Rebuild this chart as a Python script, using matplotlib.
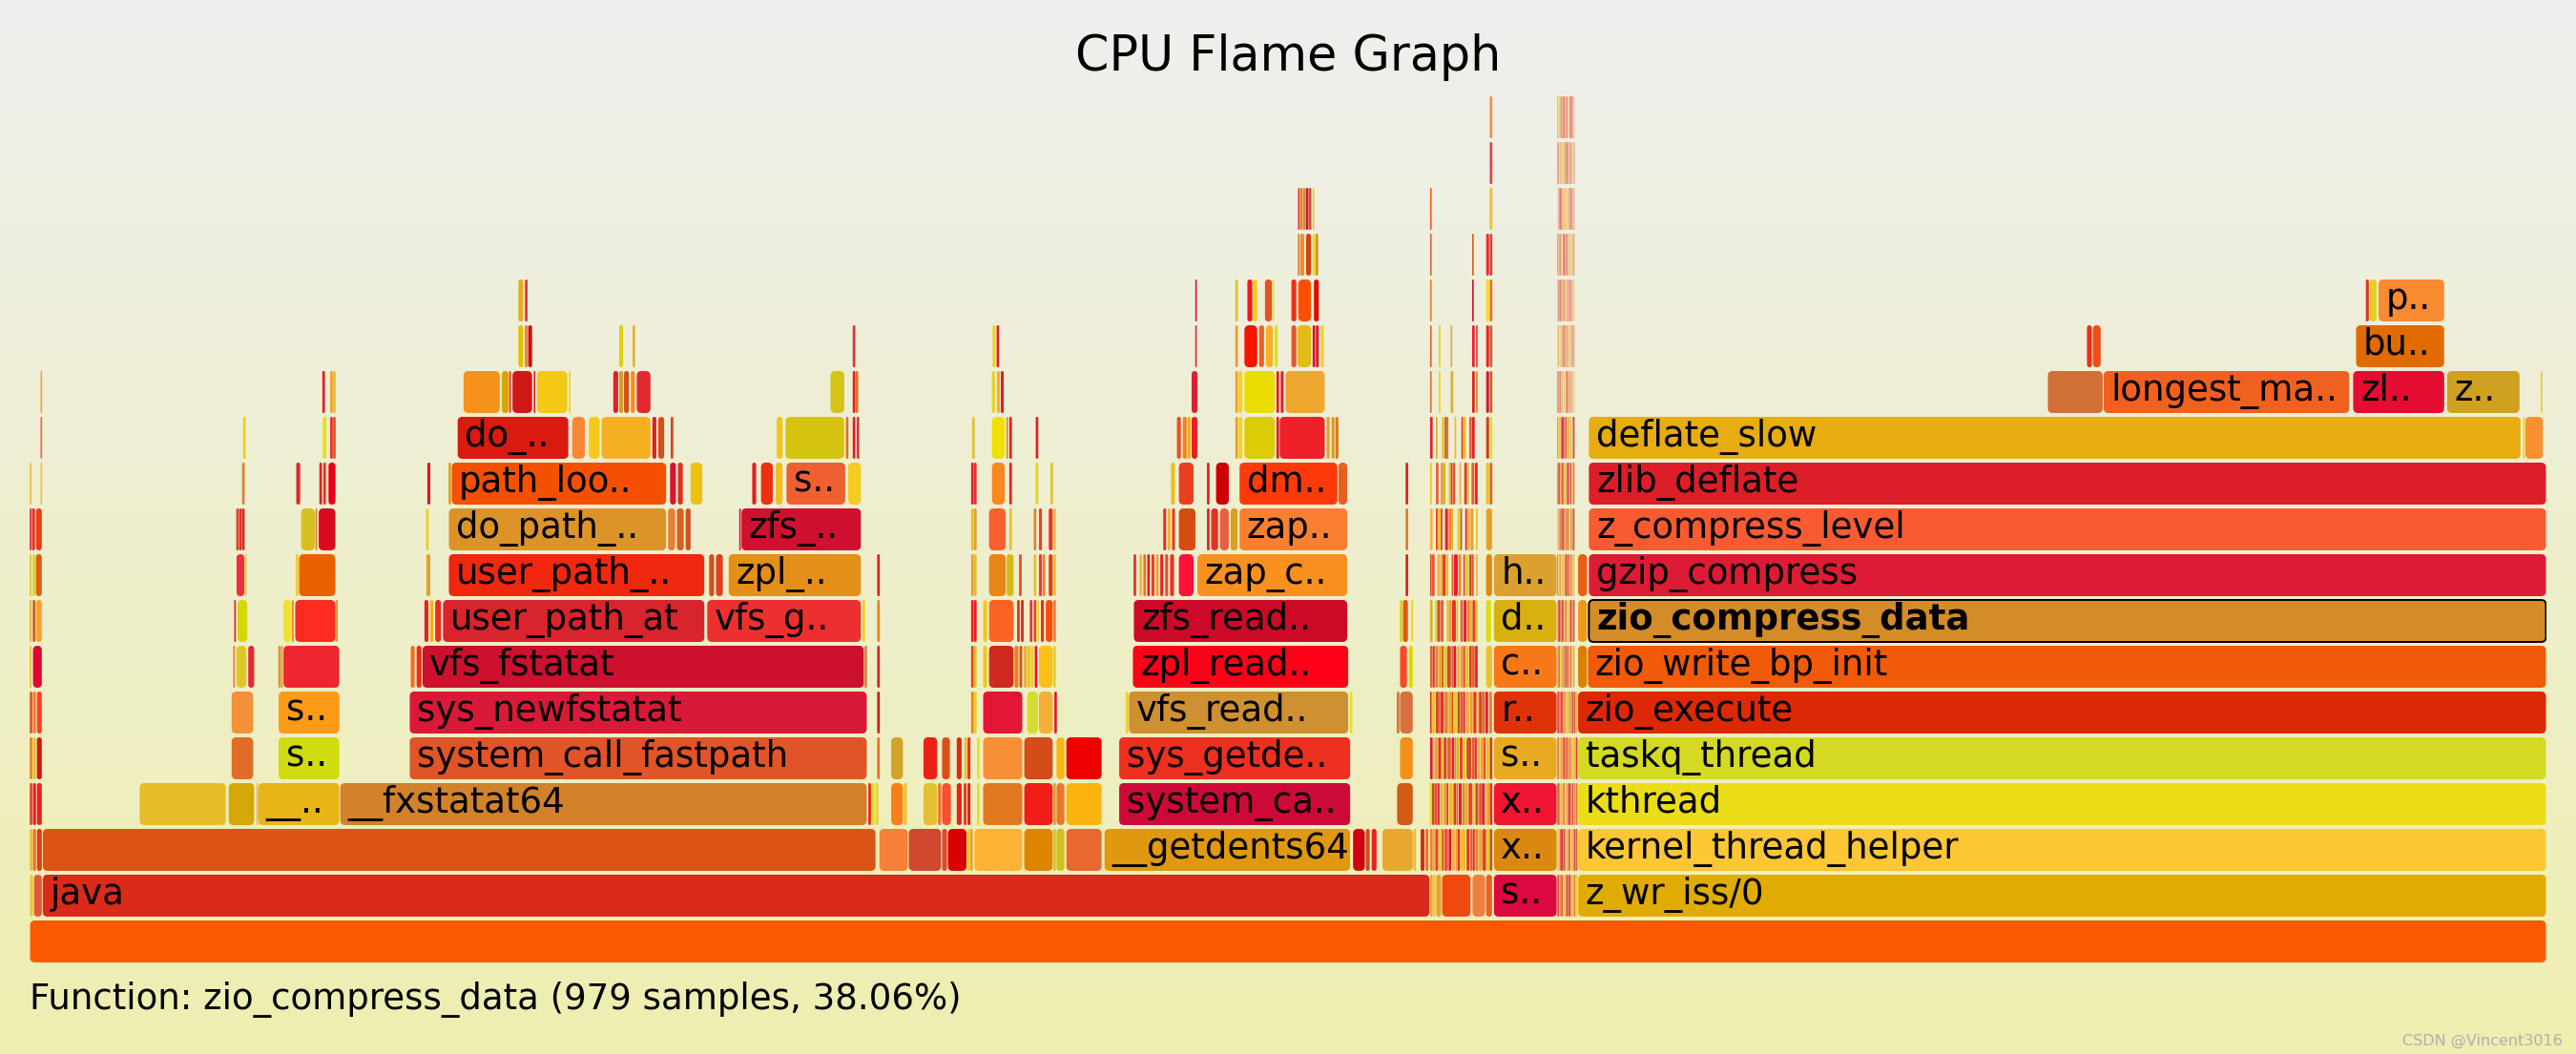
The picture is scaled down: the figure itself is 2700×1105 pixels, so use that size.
import numpy as np
import matplotlib
matplotlib.use("Agg")
import matplotlib.pyplot as plt
from matplotlib.patches import FancyBboxPatch

# ---- data: samples per stack frame, one list per depth: (start, samples, label)
total_samples = 2572
selected = "zio_compress_data"
info_text = "Function: zio_compress_data (979 samples, 38.06%)"

frames_d0 = [(0, 2572, "")]
frames_d1 = [(0, 4, ""), (4, 9, ""), (13, 1418, "java"), (1431, 3, ""), (1434, 3, ""), (1437, 6, ""),
             (1443, 30, ""), (1474, 14, ""), (1488, 7, ""), (1496, 65, "s.."), (1582, 990, "z_wr_iss/0")]
frames_d2 = [(0, 3, ""), (3, 4, ""), (7, 6, ""), (13, 852, ""), (868, 30, ""), (898, 34, ""), (932, 6, ""),
             (938, 20, ""), (958, 3, ""), (961, 3, ""), (965, 50, ""), (1016, 30, ""), (1046, 3, ""),
             (1049, 9, ""), (1059, 37, ""), (1098, 252, "__getdents64"), (1352, 13, ""), (1365, 5, ""),
             (1371, 6, ""), (1382, 32, ""), (1414, 3, ""), (1421, 5, ""), (1426, 4, ""), (1496, 65, "x.."),
             (1582, 990, "kernel_thread_helper")]
frames_d3 = [(0, 3, ""), (3, 4, ""), (7, 6, ""), (112, 89, ""), (203, 27, ""), (232, 1, ""), (233, 84, "__.."),
             (317, 539, "__fxstatat64"), (857, 3, ""), (860, 4, ""), (864, 4, ""), (880, 13, ""), (893, 4, ""),
             (913, 15, ""), (928, 4, ""), (932, 10, ""), (947, 6, ""), (954, 4, ""), (958, 4, ""), (968, 3, ""),
             (974, 41, ""), (1016, 30, ""), (1046, 3, ""), (1049, 9, ""), (1059, 37, ""),
             (1113, 237, "system_ca.."), (1397, 17, ""), (1496, 65, "x.."), (1582, 990, "kthread")]
frames_d4 = [(0, 3, ""), (3, 4, ""), (7, 6, ""), (206, 23, ""), (254, 63, "s.."),
             (388, 468, "system_call_fastpath"), (866, 3, ""), (880, 13, ""), (913, 15, ""), (932, 9, ""),
             (947, 6, ""), (955, 3, ""), (958, 4, ""), (968, 3, ""), (974, 41, ""), (1016, 30, ""), (1049, 9, ""),
             (1059, 37, ""), (1113, 237, "sys_getde.."), (1400, 14, ""), (1496, 65, "s.."),
             (1582, 990, "taskq_thread")]
frames_d5 = [(0, 3, ""), (3, 4, ""), (7, 6, ""), (206, 23, ""), (254, 63, "s.."), (388, 468, "sys_newfstatat"),
             (866, 3, ""), (962, 3, ""), (965, 3, ""), (974, 41, ""), (1019, 12, ""), (1031, 15, ""),
             (1047, 3, ""), (1120, 3, ""), (1123, 225, "vfs_read.."), (1349, 3, ""), (1397, 3, ""),
             (1400, 14, ""), (1496, 65, "r.."), (1582, 990, "zio_execute")]
frames_d6 = [(0, 2, ""), (3, 10, ""), (208, 2, ""), (211, 11, ""), (223, 7, ""), (254, 3, ""), (257, 2, ""),
             (259, 58, ""), (389, 5, ""), (395, 6, ""), (401, 452, "vfs_fstatat"), (853, 3, ""), (866, 3, ""),
             (962, 3, ""), (965, 3, ""), (974, 5, ""), (980, 26, ""), (1006, 5, ""), (1011, 4, ""), (1016, 3, ""),
             (1019, 4, ""), (1023, 3, ""), (1027, 3, ""), (1031, 15, ""), (1046, 3, ""),
             (1127, 221, "zpl_read.."), (1400, 8, ""), (1409, 5, ""), (1488, 7, ""), (1496, 65, "c.."),
             (1582, 10, ""), (1592, 980, "zio_write_bp_init")]
frames_d7 = [(0, 2, ""), (3, 3, ""), (6, 7, ""), (209, 2, ""), (212, 11, ""), (259, 9, ""), (268, 2, ""),
             (271, 42, ""), (313, 2, ""), (403, 5, ""), (409, 4, ""), (414, 7, ""), (422, 268, "user_path_at"),
             (692, 158, "vfs_g.."), (851, 3, ""), (866, 3, ""), (962, 3, ""), (965, 3, ""), (974, 5, ""),
             (980, 26, ""), (1009, 3, ""), (1013, 3, ""), (1022, 3, ""), (1026, 3, ""), (1029, 3, ""),
             (1033, 4, ""), (1038, 8, ""), (1046, 3, ""), (1128, 219, "zfs_read.."), (1400, 3, ""),
             (1403, 6, ""), (1412, 2, ""), (1488, 6, ""), (1496, 65, "d.."), (1582, 10, ""),
             (1593, 979, "zio_compress_data")]
frames_d8 = [(0, 2, ""), (3, 3, ""), (6, 7, ""), (211, 9, ""), (220, 2, ""), (272, 3, ""), (275, 38, ""),
             (405, 5, ""), (428, 262, "user_path_.."), (694, 6, ""), (701, 8, ""), (714, 136, "zpl_.."),
             (866, 3, ""), (962, 3, ""), (965, 3, ""), (980, 18, ""), (998, 8, ""), (1011, 3, ""), (1026, 3, ""),
             (1031, 4, ""), (1035, 3, ""), (1041, 5, ""), (1046, 3, ""), (1128, 3, ""), (1134, 3, ""),
             (1138, 3, ""), (1142, 3, ""), (1146, 4, ""), (1151, 3, ""), (1155, 4, ""), (1160, 4, ""),
             (1165, 5, ""), (1174, 16, ""), (1193, 154, "zap_c.."), (1406, 3, ""), (1488, 7, ""),
             (1496, 65, "h.."), (1582, 10, ""), (1593, 979, "gzip_compress")]
frames_d9 = [(0, 2, ""), (2, 4, ""), (6, 7, ""), (211, 3, ""), (214, 3, ""), (217, 3, ""), (277, 15, ""),
             (292, 2, ""), (295, 18, ""), (405, 3, ""), (428, 223, "do_path_.."), (652, 8, ""), (661, 8, ""),
             (670, 6, ""), (725, 2, ""), (727, 123, "zfs_.."), (962, 3, ""), (965, 3, ""), (980, 18, ""),
             (1001, 3, ""), (1026, 3, ""), (1031, 4, ""), (1041, 5, ""), (1046, 3, ""), (1158, 4, ""),
             (1163, 3, ""), (1167, 4, ""), (1174, 18, ""), (1203, 3, ""), (1207, 8, ""), (1216, 10, ""),
             (1227, 8, ""), (1236, 111, "zap.."), (1406, 3, ""), (1488, 7, ""),
             (1593, 979, "z_compress_level")]
frames_d10 = [(0, 2, ""), (11, 2, ""), (217, 3, ""), (272, 5, ""), (296, 3, ""), (300, 3, ""), (305, 8, ""),
              (406, 4, ""), (428, 3, ""), (431, 220, "path_loo.."), (654, 7, ""), (662, 6, ""), (675, 13, ""),
              (738, 5, ""), (747, 13, ""), (762, 8, ""), (773, 61, "s.."), (836, 14, ""), (962, 3, ""),
              (965, 3, ""), (983, 14, ""), (1001, 3, ""), (1028, 3, ""), (1043, 3, ""), (1166, 5, ""),
              (1174, 16, ""), (1203, 3, ""), (1212, 14, ""), (1236, 101, "dm.."), (1337, 10, ""),
              (1406, 3, ""), (1488, 4, ""), (1492, 3, ""), (1593, 979, "zlib_deflate")]
frames_d11 = [(11, 2, ""), (218, 3, ""), (299, 5, ""), (307, 3, ""), (310, 3, ""), (437, 114, "do_.."),
              (554, 14, ""), (571, 12, ""), (584, 51, ""), (636, 5, ""), (642, 7, ""), (655, 3, ""),
              (763, 7, ""), (772, 61, ""), (834, 3, ""), (841, 3, ""), (845, 3, ""), (963, 3, ""), (983, 14, ""),
              (998, 2, ""), (1001, 3, ""), (1028, 3, ""), (1172, 5, ""), (1178, 5, ""), (1183, 4, ""),
              (1187, 7, ""), (1232, 3, ""), (1235, 5, ""), (1241, 32, ""), (1274, 3, ""), (1277, 47, ""),
              (1325, 4, ""), (1330, 4, ""), (1334, 4, ""), (1488, 4, ""), (1492, 3, ""),
              (1593, 953, "deflate_slow"), (2548, 2, ""), (2550, 19, "")]
frames_d12 = [(11, 2, ""), (299, 3, ""), (307, 3, ""), (310, 3, ""), (443, 38, ""), (482, 8, ""), (490, 2, ""),
              (493, 21, ""), (515, 2, ""), (518, 32, ""), (551, 2, ""), (596, 6, ""), (602, 5, ""), (607, 6, ""),
              (614, 5, ""), (620, 15, ""), (818, 15, ""), (841, 3, ""), (844, 3, ""), (983, 4, ""), (988, 4, ""),
              (992, 4, ""), (1187, 7, ""), (1232, 3, ""), (1235, 5, ""), (1241, 32, ""), (1274, 3, ""),
              (1278, 4, ""), (1283, 41, ""), (1431, 2, ""), (1440, 2, ""), (1452, 3, ""), (1474, 3, ""),
              (1478, 2, ""), (1488, 4, ""), (1492, 3, ""), (2062, 57, ""), (2119, 252, "longest_ma.."),
              (2374, 94, "zl.."), (2470, 75, "z.."), (2566, 2, "")]
frames_d13 = [(499, 6, ""), (506, 3, ""), (509, 5, ""), (602, 5, ""), (616, 3, ""), (841, 3, ""), (984, 3, ""),
              (988, 3, ""), (1191, 2, ""), (1232, 3, ""), (1241, 14, ""), (1256, 6, ""), (1263, 8, ""),
              (1272, 4, ""), (1289, 6, ""), (1295, 15, ""), (1311, 3, ""), (1314, 4, ""), (1319, 4, ""),
              (1431, 2, ""), (1440, 2, ""), (1452, 2, ""), (1474, 3, ""), (1478, 2, ""), (1488, 4, ""),
              (1492, 3, ""), (2102, 6, ""), (2108, 9, ""), (2377, 91, "bu..")]
frames_d14 = [(499, 6, ""), (506, 3, ""), (1191, 2, ""), (1232, 3, ""), (1244, 6, ""), (1250, 5, ""),
              (1262, 8, ""), (1270, 2, ""), (1289, 6, ""), (1296, 14, ""), (1312, 6, ""), (1431, 2, ""),
              (1474, 2, ""), (1488, 4, ""), (1492, 3, ""), (2387, 4, ""), (2391, 8, ""), (2400, 68, "p..")]
frames_d15 = [(1296, 2, ""), (1298, 5, ""), (1304, 6, ""), (1311, 3, ""), (1314, 3, ""), (1431, 2, ""),
              (1474, 2, ""), (1488, 4, ""), (1492, 3, "")]
frames_d16 = [(1296, 2, ""), (1298, 3, ""), (1301, 3, ""), (1304, 3, ""), (1307, 3, ""), (1311, 2, ""),
              (1431, 2, ""), (1492, 3, "")]
frames_d17 = [(1492, 3, "")]
frames_d18 = [(1492, 3, "")]

# thin stacks too narrow to label: start sample and the widths of the slivers (negative = empty)
band_a_start = 1431
band_a_widths = {
    2: [3, 2, 4, 3, 2, 5, 3, 4, 2, 3, 6, 4, 3, 2, 4, 3, 5, 3, 3],
    3: [2, 3, 3, 2, 4, 3, 2, 5, 3, 2, 4, 3, 3, 5, 2, 4, 3, 3, 2, 3, 3],
    4: [3, 2, 3, 4, 2, 3, 5, 3, 2, 3, 4, 3, 6, 3, 2, 4, 3, 2, 4, 3],
    5: [2, 4, 3, 2, 3, 5, 3, 2, 4, 3, 3, 2, 5, 3, 4, 2, 3, 3, 4, 4],
    6: [3, 2, 4, 3, 2, 3, 5, 2, 3, 4, 3, 2, 4, 3, 3, 3],
    7: [3, -2, 2, 4, 3, -3, 2, 3, 5, 2, -2, 3, 4, 3, 2, 4, 2],
    8: [2, 3, -2, 4, 2, 3, 3, -3, 2, 5, 3, -2, 2, 4, 3, 2, -2, 2],
    9: [3, -3, 2, 3, 2, -2, 4, 3, 2, -4, 3, 2, -3, 2, 3, 4, -2, 2],
    10: [2, -4, 3, -2, 2, 3, -3, 2, 2, 3, -4, 2, -3, 3, 2, -2, 4, 3],
    11: [3, -3, 2, -4, 3, 2, 2, -6, 2, -5, 2, 3, -3, 3, 3, -3],
}
band_b_start = 1561
band_b_low = [2, 1, 3, 2, 1, 2, 3, 1, 2, 2, 2]         # depths 1-5
band_b_mid = [1, 2, 1, 3, 1, 2, 2, 1, 2, 1, 2]         # depths 6-11
band_b_high = [1, 1, 2, 1, 1, 2, 1, 2, 1, 1, 2, 1, 1, 1]  # depths 12-18

# ---- colours (same order as the frame lists)
colors_d0 = ["#FA5A04"]
colors_d1 = ["#E8C830", "#E45838", "#DA2A1A", "#E8A838", "#F0C840", "#E8A030", "#F04A10", "#EE8040",
             "#E86020", "#DC0840", "#E0AC04"]
colors_d2 = ["#E8C020", "#E07030", "#D44010", "#DC5414", "#F88038", "#D04830", "#E04838", "#DA0000",
             "#F0D020", "#E8A030", "#FDB236", "#E08400", "#D8C020", "#D0C020", "#E86830", "#E09810",
             "#D00010", "#C85020", "#E82020", "#E8A830", "#F0C020", "#D03010", "#F07020", "#DA8810", "#FCC634"]
colors_d3 = ["#E84030", "#E02020", "#EC2020", "#E8BC28", "#D4A808", "#E08030", "#E8B418", "#D2822A",
             "#EE2020", "#D8E020", "#E8D040", "#F88018", "#F0C020", "#E2C030", "#F07020", "#F85030",
             "#E82018", "#E04020", "#E02020", "#E8E020", "#E07820", "#F01C18", "#E0A020", "#E87828",
             "#FCB410", "#CC0A38", "#D45A18", "#F01530", "#EBDD18"]
colors_d4 = ["#F08020", "#E8C020", "#D41808", "#E06C28", "#D0DC10", "#E05428", "#F07020", "#D0A428",
             "#EC2014", "#D85018", "#E02818", "#E8C020", "#E83020", "#E8E020", "#F89038", "#D44C18",
             "#F8B810", "#EE0000", "#EE3020", "#F49018", "#E8AA20", "#D4DA22"]
colors_d5 = ["#E85030", "#F08020", "#FC4030", "#F49038", "#FD9A18", "#D81A38", "#C82010", "#F08020",
             "#F0D020", "#E41638", "#D8DC30", "#F4B038", "#E02020", "#F0D020", "#CE9030", "#E8E020",
             "#E07030", "#D87040", "#E03208", "#DC2804"]
colors_d6 = ["#E8C020", "#DC0830", "#E08030", "#DCC820", "#E42830", "#E09030", "#E8A030", "#EE2630",
             "#F07020", "#E83018", "#CC102E", "#E08040", "#E02020", "#E04020", "#E0C020", "#F0C820",
             "#D02A20", "#E88020", "#C86020", "#E0B030", "#E8C020", "#F0D020", "#E01838", "#FCC018",
             "#F0D020", "#FE0018", "#FC4828", "#E0D800", "#E8C030", "#F87818", "#D88000", "#F05A08"]
colors_d7 = ["#E8B030", "#C86020", "#FCA030", "#E02020", "#D4D800", "#F4E030", "#E08030", "#FC2C20",
             "#E08030", "#EE2020", "#F8B010", "#E83020", "#D8242C", "#EC3030", "#E8D020", "#F08020",
             "#E82020", "#F02020", "#F0C820", "#FC6424", "#E03020", "#E02020", "#E83030", "#E04040",
             "#F0E020", "#E83020", "#FC4C08", "#F08030", "#CC0A28", "#E0D020", "#DA5A10", "#E8D020",
             "#DCDC10", "#D8B010", "#F09818", "#D48C28"]
colors_d8 = ["#E8C020", "#E0D030", "#D86010", "#EE3038", "#E8D020", "#E8D020", "#EA6000", "#E0A030",
             "#F02810", "#D05020", "#E04020", "#E49018", "#E02020", "#E8A030", "#E0C030", "#EA8418",
             "#D8B818", "#E05020", "#E8C020", "#E04040", "#F08030", "#E04010", "#E8C020", "#E83020",
             "#E8C030", "#F07020", "#E02020", "#E84020", "#F0A030", "#E02828", "#E85020", "#EE3020",
             "#FF1038", "#F89020", "#E02020", "#E08810", "#DCA030", "#E86010", "#DC1C34"]
colors_d9 = ["#E82030", "#E03020", "#E84010", "#E04020", "#E83020", "#D03020", "#D4C020", "#E08030",
             "#D80A20", "#E8D020", "#DC9428", "#E88030", "#D86020", "#D05020", "#E02020", "#D01030",
             "#E8C020", "#E0A030", "#FC6030", "#E8C030", "#E08030", "#E84030", "#EE3030", "#F0C030",
             "#E83020", "#F0B030", "#E04020", "#D24E10", "#E02020", "#E83020", "#E86040", "#D8A020",
             "#F88030", "#E08020", "#E8A020", "#F85A32"]
colors_d10 = ["#F0C030", "#F0C030", "#E08030", "#E02828", "#E02020", "#E83020", "#E80018", "#D81818",
              "#E0A020", "#F55000", "#D01830", "#E03020", "#F0C010", "#E02020", "#EE3010", "#F0C020",
              "#EE6030", "#F4CC20", "#E02020", "#E83030", "#F88820", "#E02020", "#E8D020", "#E8C030",
              "#E8C020", "#E84020", "#E02020", "#CC0000", "#FE3A0A", "#E86020", "#E02020", "#E8C020",
              "#E06020", "#DC1E28"]
colors_d11 = ["#E07050", "#E8D020", "#E8E020", "#E83020", "#F05020", "#D81A10", "#F88838", "#F8C818",
              "#F4B020", "#E02020", "#D05018", "#E04020", "#F0C818", "#D4C410", "#E87020", "#E02020",
              "#E83030", "#E8C030", "#EEE000", "#E08030", "#E02020", "#E02020", "#E85020", "#F08020",
              "#E8B020", "#E82020", "#E0A030", "#F8D020", "#DCCC08", "#E02020", "#EE2028", "#E0A030",
              "#D0A020", "#E87020", "#D04020", "#D8E030", "#E6AC10", "#E8D020", "#F89030"]
colors_d12 = ["#F0A050", "#E02020", "#F0A030", "#E8C020", "#F4921C", "#D4A800", "#F02020", "#D01818",
              "#E02020", "#F4C814", "#F0D020", "#E02028", "#D0A020", "#D05018", "#F09018", "#E02830",
              "#D4C418", "#E02020", "#E07020", "#E8D020", "#F0B030", "#E02020", "#D82030", "#E8A030",
              "#F8D020", "#E8DC00", "#E02020", "#E02030", "#EEA830", "#E87020", "#F0D020", "#D8B030",
              "#E02020", "#E88020", "#D81838", "#C86020", "#D07038", "#F06020", "#E40C30", "#D0A020",
              "#E8D020"]
colors_d13 = ["#E4C000", "#E08030", "#D80810", "#E0D000", "#E8B030", "#E83030", "#E8D020", "#E02020",
              "#E03030", "#E8A030", "#F41400", "#EA6420", "#FAB020", "#E0E010", "#E05830", "#E4BC18",
              "#D01828", "#E81828", "#F0D020", "#E86020", "#E8D020", "#D0B040", "#E82030", "#E04040",
              "#F02020", "#C86030", "#E83018", "#F05018", "#E06C00"]
colors_d14 = ["#E0B020", "#F03030", "#D81838", "#E0C030", "#F01818", "#F4D010", "#E85020", "#E8E020",
              "#EE3010", "#FC5000", "#DC1000", "#F07820", "#D81030", "#FCD820", "#E87020", "#E83020",
              "#E8D020", "#F88A30"]
colors_d15 = ["#D08030", "#F88820", "#D84010", "#E8E010", "#D09030", "#E06030", "#D06020", "#E83030",
              "#E04040"]
colors_d16 = ["#E04040", "#F08020", "#D09040", "#C82020", "#E04040", "#E8D020", "#F06010", "#F0C020"]
colors_d17 = ["#E84040"]
colors_d18 = ["#F09040"]
sliver_palette = ["#E8A030", "#E83020", "#F0C020", "#D04020", "#E86030", "#E02030", "#F08030",
                  "#D8B020", "#EE4020", "#E0D020", "#C85020", "#F05030", "#DC1838", "#F8B040"]

frames = [frames_d0, frames_d1, frames_d2, frames_d3, frames_d4, frames_d5, frames_d6, frames_d7,
          frames_d8, frames_d9, frames_d10, frames_d11, frames_d12, frames_d13, frames_d14, frames_d15,
          frames_d16, frames_d17, frames_d18]
colors = [colors_d0, colors_d1, colors_d2, colors_d3, colors_d4, colors_d5, colors_d6, colors_d7,
          colors_d8, colors_d9, colors_d10, colors_d11, colors_d12, colors_d13, colors_d14, colors_d15,
          colors_d16, colors_d17, colors_d18]

W, H = 2700, 1105
fig = plt.figure(figsize=(W / 100, H / 100), dpi=100)

# background gradient (#eeeeee -> #eeeeb0)
bg = fig.add_axes([0, 0, 1, 1])
t = np.linspace(0, 1, 256)[:, None, None]
top = np.array([0xEE, 0xEE, 0xEE]) / 255.0
bottom = np.array([0xEE, 0xEE, 0xB0]) / 255.0
bg.imshow(top + (bottom - top) * t, aspect="auto", extent=[0, 1, 0, 1], origin="upper")
bg.axis("off")

# flame area
left_px, right_px, bottom_px, row_px = 31, 2669, 1009, 48
ax = fig.add_axes([left_px / W, (H - bottom_px) / H, (right_px - left_px) / W, 19 * row_px / H])
ax.set_xlim(0, total_samples)
ax.set_ylim(0, 19)
ax.axis("off")
ax.patch.set_alpha(0)

px = (right_px - left_px) / total_samples   # pixels per sample
row_h = 44 / row_px
m_aspect = px / row_px
radius = 5 / px
label_size = 26.7


def draw_frame(depth, start, width, color, label="", highlight=False, alpha=1.0):
    gap = 1.0 / px if width > 3 else 0.35
    w = max(width - gap, 0.4)
    r = min(radius, w / 2)
    ax.add_patch(FancyBboxPatch((start + gap / 2, depth), w, row_h,
                                boxstyle=f"round,pad=0,rounding_size={r}",
                                mutation_aspect=m_aspect, fc=color, alpha=alpha,
                                ec="black" if highlight else "none",
                                lw=1.4 if highlight else 0))
    if label:
        ax.text(start + 8 / px, depth + 13 / row_px, label, fontsize=label_size, va="baseline",
                ha="left", color="black", fontweight="bold" if highlight else "normal")


for depth, (row, cols) in enumerate(zip(frames, colors)):
    for (start, width, label), c in zip(row, cols):
        draw_frame(depth, start, width, c, label, highlight=(label == selected))

for depth, widths in band_a_widths.items():
    x = band_a_start
    for i, w in enumerate(widths):
        if w > 0:
            draw_frame(depth, x, w, sliver_palette[(i + depth * 3) % len(sliver_palette)])
        x += abs(w)

for depth in range(1, 19):
    widths = band_b_low if depth <= 5 else band_b_mid if depth <= 11 else band_b_high
    x = band_b_start
    for i, w in enumerate(widths):
        draw_frame(depth, x, w, sliver_palette[(i * 5 + depth) % len(sliver_palette)],
                   alpha=0.6 if depth >= 12 else 0.85)
        x += w

fig.text(0.5, 1 - 74 / H, "CPU Flame Graph", ha="center", va="baseline", fontsize=36.5)
fig.text(left_px / W, 1 - 1058 / H, info_text, ha="left", va="baseline", fontsize=label_size)
fig.text(2686 / W, 1 - 1096 / H, "CSDN @Vincent3016", ha="right", va="baseline", fontsize=11.5,
         color="#b0b0b0")

fig.savefig("out.png", dpi=100)
